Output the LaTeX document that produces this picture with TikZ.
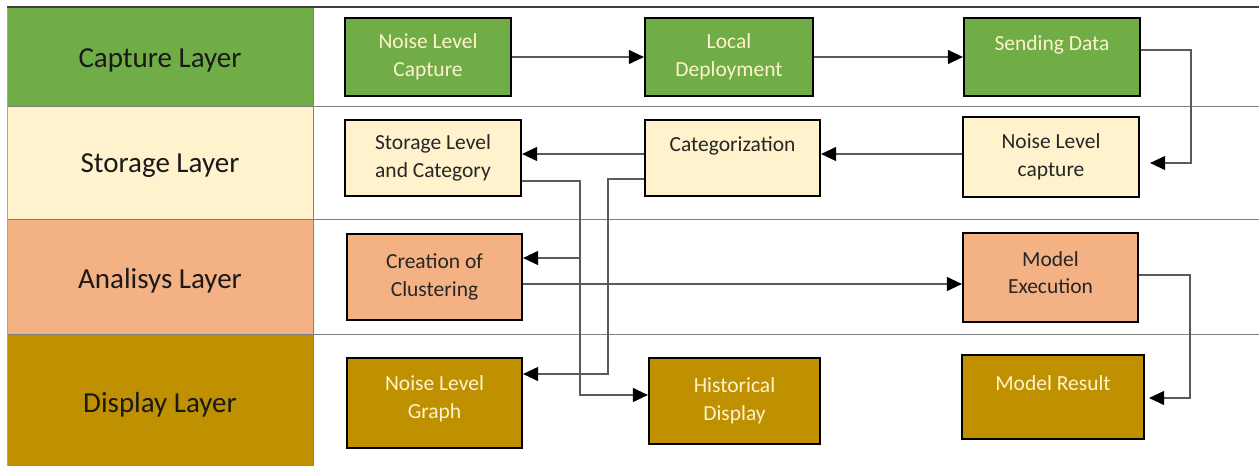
\documentclass[tikz,border=0pt]{standalone}
\usepackage{fontspec}
\setmainfont{Carlito}
\usetikzlibrary{arrows.meta,calc}
\definecolor{capg}{HTML}{70AD47}
\definecolor{stoy}{HTML}{FFF2CC}
\definecolor{anao}{HTML}{F4B183}
\definecolor{disg}{HTML}{BF9000}
\definecolor{lightt}{HTML}{FFF2CC}
\definecolor{linegrey}{HTML}{5A5A5A}
\definecolor{sepgrey}{HTML}{808080}
\begin{document}
\begin{tikzpicture}[x=1pt,y=-1pt,
  boxst/.style={draw=black,line width=2.2pt,align=center,inner sep=0pt,
    font=\fontsize{21.5}{27.5}\selectfont},
  layertxt/.style={font=\fontsize{29}{34}\selectfont,text=black!90},
  conn/.style={draw=linegrey,line width=1.1pt,-{Triangle[length=15pt,width=14pt,color=black]}},
  plain/.style={draw=linegrey,line width=1.1pt}]
\useasboundingbox (0,0) rectangle (1259,466);
\fill[white] (0,0) rectangle (1259,466);
% layer bands
\fill[capg] (7,7) rectangle (313,106);
\fill[stoy] (7,106) rectangle (313,219);
\fill[anao] (7,219) rectangle (313,334);
\fill[disg] (7,334) rectangle (313,466);
\draw[sepgrey,line width=1pt] (7,106) -- (1259,106);
\draw[sepgrey,line width=1pt] (7,219) -- (1259,219);
\draw[sepgrey,line width=1pt] (7,334) -- (1259,334);
\draw[sepgrey,line width=1pt] (313,7) -- (313,466);
\draw[sepgrey!70,line width=0.8pt] (7,7) -- (7,466);
\draw[black!75,line width=1.2pt] (7,7) -- (1259,7);
\node[layertxt] (L1) at (160,60) {Capture Layer};
\node[layertxt] (L2) at (160,166) {Storage Layer};
\node[layertxt] (L3) at (160,281) {Analisys Layer};
\node[layertxt] (L4) at (160,405) {Display Layer};
% boxes
\node[boxst,fill=capg,text=lightt,minimum width=166pt,minimum height=78pt] (NLC) at (428,57) {Noise Level\\Capture};
\node[boxst,fill=capg,text=lightt,minimum width=168pt,minimum height=78pt] (LD) at (729,57) {Local\\Deployment};
\node[boxst,fill=capg,text=lightt,minimum width=176pt,minimum height=78pt] (SD) at (1052,57) {Sending Data\\\mbox{}};
\node[boxst,fill=stoy,text=black!85,minimum width=176pt,minimum height=76pt] (SLC) at (433,158) {Storage Level\\and Category};
\node[boxst,fill=stoy,text=black!85,minimum width=175pt,minimum height=76pt] (CAT) at (732.5,158) {Categorization\\\mbox{}};
\node[boxst,fill=stoy,text=black!85,minimum width=176pt,minimum height=80pt] (NLc) at (1051,157) {Noise Level\\capture};
\node[boxst,fill=anao,text=black!85,minimum width=175pt,minimum height=86pt] (CC) at (434.5,277) {Creation of\\Clustering};
\node[boxst,fill=anao,text=black!85,minimum width=175pt,minimum height=89pt,text depth=10pt] (ME) at (1050.5,277.5) {Model\\Execution};
\node[boxst,fill=disg,text=lightt,minimum width=175pt,minimum height=90pt,text depth=12pt] (NLG) at (434.5,403) {Noise Level\\Graph};
\node[boxst,fill=disg,text=lightt,minimum width=171pt,minimum height=86pt] (HD) at (734.5,401) {Historical\\Display};
\node[boxst,fill=disg,text=lightt,minimum width=182pt,minimum height=84pt] (MR) at (1053,397) {Model Result\\\mbox{}};
% connectors
\draw[conn] (NLC.east) -- (LD.west);
\draw[conn] (LD.east) -- (SD.west);
\draw[conn] (SD.east |- 0,50) -- (1191,50) |- ([xshift=10pt]NLc.east |- 0,163);
\draw[conn] (NLc.west |- 0,154) -- (CAT.east |- 0,154);
\draw[conn] (CAT.west |- 0,154) -- (SLC.east |- 0,154);
\coordinate (j1) at (580,258);
\draw[conn] (SLC.east |- 0,181) -- (580,181) |- (HD.west |- 0,395);
\draw[conn] (j1) -- (CC.east |- j1);
\draw[conn] (CAT.west |- 0,179) -- (608,179) |- (NLG.east |- 0,374);
\draw[conn] (CC.east |- 0,284) -- (ME.west |- 0,284);
\draw[conn] (ME.east |- 0,275) -- (1190,275) |- ([xshift=4pt]MR.east |- 0,398);
\end{tikzpicture}
\end{document}
